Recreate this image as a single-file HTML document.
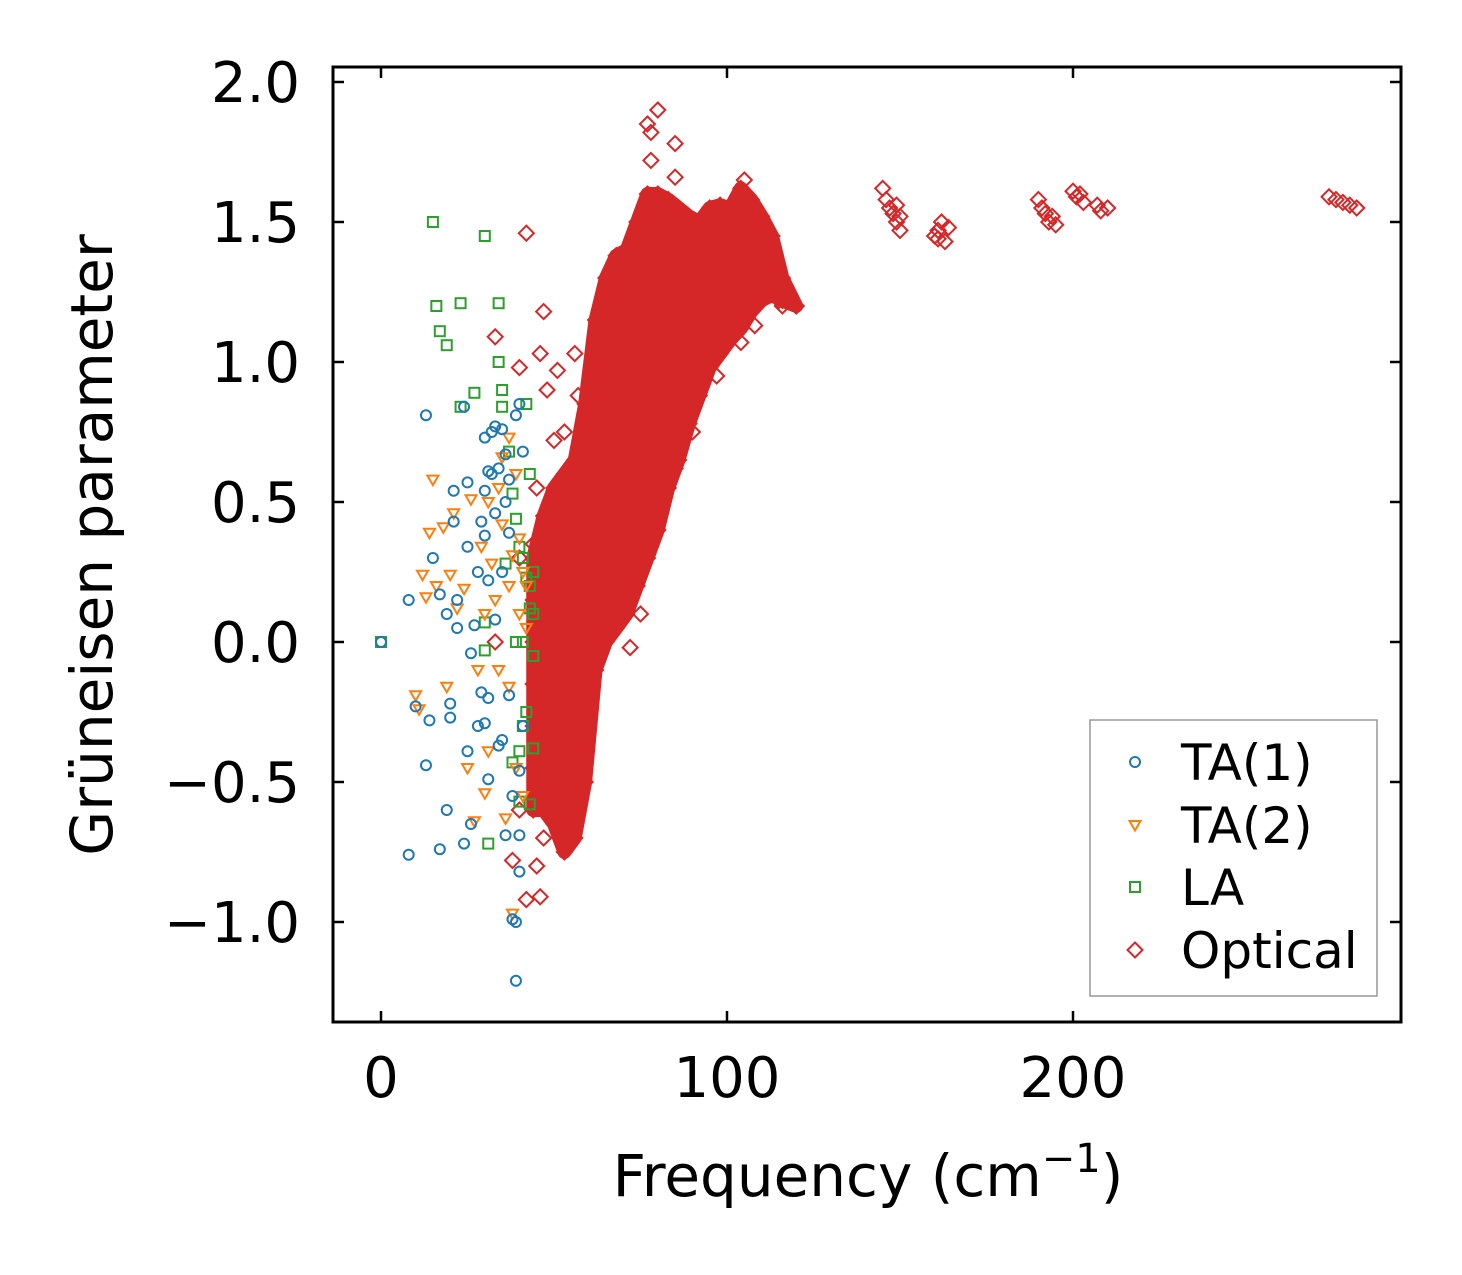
<!DOCTYPE html>
<html><head><meta charset="utf-8"><style>
html,body{margin:0;padding:0;background:#fff;}
svg text{font-family:"DejaVu Sans","Liberation Sans",sans-serif;fill:#000;}
</style></head><body>
<svg id="chart" width="1462" height="1270" viewBox="0 0 1462 1270" xmlns="http://www.w3.org/2000/svg">
<rect x="0" y="0" width="1462" height="1270" fill="#fff"/>
<g id="marks"></g>
<g id="axes"></g>
</svg>
<script>
const xTicks = [0, 100, 200];
const xTickLabels = ["0", "100", "200"];
const yTicks = [-1.0, -0.5, 0.0, 0.5, 1.0, 1.5, 2.0];
const yTickLabels = ["\u22121.0", "\u22120.5", "0.0", "0.5", "1.0", "1.5", "2.0"];
const seriesNames = ["TA(1)", "TA(2)", "LA", "Optical"];

const ta1X = [0,8,8,10,13,13,14,15,17,17,19,19,20,20,21,21,22,22,24,24,25,25,25,26,26,27,28,28,29,29,30,30,30,30,31,31,31,31,32,32,33,33,33,34,34,35,35,35,36,36,36,37,37,37,38,38,39,39,39,40,40,40,40,41,41];
const ta1Y = [0,-0.76,0.15,-0.23,0.81,-0.44,-0.28,0.3,0.17,-0.74,-0.6,0.1,-0.27,-0.22,0.54,0.43,0.05,0.15,-0.72,0.84,0.57,0.34,-0.39,-0.04,-0.65,0.06,0.25,-0.3,0.43,-0.18,0.73,0.54,0.38,-0.29,0.61,0.22,-0.49,-0.2,0.75,0.6,0.77,0.46,0.08,0.62,-0.37,0.76,-0.35,0.25,0.67,0.5,-0.69,0.58,0.39,-0.19,-0.99,-0.55,0.81,-1.0,-1.21,-0.82,-0.69,-0.46,0.85,0.68,-0.3];

const ta2X = [10,11,12,13,14,15,16,18,19,20,21,22,24,25,26,27,28,29,30,30,31,31,32,33,34,34,35,35,36,37,37,37,38,38,39,39,40,40,41,41,42,42];
const ta2Y = [-0.19,-0.24,0.24,0.16,0.39,0.58,0.2,0.41,-0.16,0.24,0.46,0.12,0.19,-0.45,0.51,-0.64,-0.1,0.34,-0.54,0.1,0.5,-0.39,0.28,0.15,0.55,-0.1,0.66,0.42,-0.63,0.73,0.2,-0.16,-0.97,0.31,0.6,-0.45,0.1,0.37,0.25,-0.55,0.05,0.2];

const laX = [0,15,16,17,19,23,23,27,30,30,30,31,34,34,35,35,36,37,38,38,39,40,40,41,42,42,42,43,43,43,43,44,44,44,44,40,39,41,41];
const laY = [0,1.5,1.2,1.11,1.06,1.21,0.84,0.89,1.45,-0.03,0.07,-0.72,1.21,1.0,0.9,0.84,0.28,0.68,-0.43,0.53,0.44,-0.57,0.34,0.3,0.23,0.85,-0.25,0.6,0.2,0.12,-0.58,0.25,-0.05,0.1,-0.38,-0.39,0.0,0.0,-0.3];

const optColX = [44,47,50,53,56,59,62,65,68,71,74,77,80,83,86,89,92,95,98,101,104,107,110,113,116,120];
const optColY = [
 [-0.6,-0.45,-0.3,-0.15,0,0.15,0.3],
 [-0.6,-0.45,-0.3,-0.15,0,0.15,0.3,0.45],
 [-0.65,-0.5,-0.35,-0.2,-0.05,0.1,0.25,0.4,0.55],
 [-0.75,-0.6,-0.45,-0.3,-0.15,0,0.15,0.3,0.45,0.6],
 [-0.7,-0.55,-0.4,-0.25,-0.1,0.05,0.2,0.35,0.5,0.65],
 [-0.5,-0.35,-0.2,-0.05,0.1,0.25,0.4,0.55,0.7,0.85],
 [-0.1,0.1,0.25,0.4,0.55,0.7,0.85,1.0,1.15],
 [0,0.15,0.3,0.45,0.6,0.75,0.9,1.05,1.2,1.3],
 [0.05,0.2,0.35,0.5,0.65,0.8,0.95,1.1,1.25,1.38],
 [0.1,0.25,0.4,0.55,0.7,0.85,1.0,1.15,1.3,1.4],
 [0.2,0.35,0.5,0.65,0.8,0.95,1.1,1.25,1.4,1.5],
 [0.3,0.45,0.6,0.75,0.9,1.05,1.2,1.35,1.5,1.6],
 [0.4,0.55,0.7,0.85,1.0,1.15,1.3,1.45,1.6],
 [0.55,0.7,0.85,1.0,1.15,1.3,1.45,1.58],
 [0.65,0.8,0.95,1.1,1.25,1.4,1.55],
 [0.78,0.95,1.1,1.25,1.4,1.52],
 [0.88,1.05,1.2,1.35,1.5],
 [0.98,1.15,1.3,1.45,1.55],
 [1.03,1.2,1.35,1.5,1.56],
 [1.08,1.25,1.4,1.55],
 [1.12,1.3,1.45,1.62],
 [1.18,1.35,1.5,1.58],
 [1.22,1.35,1.52],
 [1.24,1.35,1.45],
 [1.22,1.3],
 [1.2]
];
const optX = [42,47,40,33,48,46,51,50,40,46,42,38,45,33,40,72,75,68,56,80,85,77,85,105,116,120,115,108,104,97,90,85,75,57,53,45,44,47,78,78,
 145,146,147,148,149,150,149,150,160,161,162,163,161,164,190,191,192,193,194,195,200,201,202,203,207,208,210,274,276,278,280,282];
const optY = [1.46,1.18,0.98,1.09,0.9,1.03,0.97,0.72,0.3,-0.91,-0.92,-0.78,-0.8,0.0,-0.6,-0.02,0.31,0.18,1.03,1.9,1.78,1.85,1.66,1.65,1.2,1.2,1.22,1.13,1.07,0.95,0.75,0.62,0.1,0.88,0.75,0.55,0.35,-0.7,1.82,1.72,
 1.62,1.58,1.55,1.53,1.5,1.47,1.56,1.52,1.45,1.47,1.5,1.43,1.44,1.48,1.58,1.55,1.53,1.5,1.52,1.49,1.61,1.59,1.6,1.57,1.56,1.54,1.55,1.59,1.58,1.57,1.56,1.55];

const PL=333,PR=1401,PT=67,PB=1022;
function sx(v){return 381 + v*3.46;}
function sy(v){return 642 - v*280;}
const NS="http://www.w3.org/2000/svg";
function mk(tag, attrs, parent){const e=document.createElementNS(NS,tag);for(const k in attrs)e.setAttribute(k,attrs[k]);parent.appendChild(e);return e;}
const marksG=document.getElementById('marks');
const axesG=document.getElementById('axes');
const C={blue:"#1f77b4",orange:"#ff7f0e",green:"#2ca02c",red:"#d62728"};

function circle(x,y,g){const e=mk('circle',{cx:x,cy:y,r:5,fill:'none',stroke:C.blue,'stroke-width':2},g);

}
function tri(x,y,g){const e=mk('path',{d:`M${x-5.5},${y-4} L${x+5.5},${y-4} L${x},${y+5.5} Z`,fill:'none',stroke:C.orange,'stroke-width':2},g);

}
function sq(x,y,g){const e=mk('rect',{x:x-5,y:y-5,width:10,height:10,fill:'none',stroke:C.green,'stroke-width':2},g);

}
function dia(x,y,g){const e=mk('path',{d:`M${x},${y-7.5} L${x+7.5},${y} L${x},${y+7.5} L${x-7.5},${y} Z`,fill:'none',stroke:C.red,'stroke-width':2},g);

}

const gOpt=mk('g',{},marksG);


const envTop=[],envBot=[];
optColX.forEach((x,i)=>{const ys=optColY[i];envTop.push([sx(x),sy(Math.max(...ys))]);envBot.push([sx(x),sy(Math.min(...ys))]);});
const envPts=envTop.concat(envBot.reverse()).map(p=>p.join(',')).join(' ');
const env=mk('polygon',{points:envPts,fill:C.red,stroke:C.red,'stroke-width':14,'stroke-linejoin':'round'},gOpt);


optColX.forEach((x,i)=>optColY[i].forEach(y=>dia(sx(x),sy(y),gOpt)));
optX.forEach((x,i)=>dia(sx(x),sy(optY[i]),gOpt));

const gLA=mk('g',{},marksG);


laX.forEach((x,i)=>sq(sx(x),sy(laY[i]),gLA));
const gT2=mk('g',{},marksG);


ta2X.forEach((x,i)=>tri(sx(x),sy(ta2Y[i]),gT2));
const gT1=mk('g',{},marksG);


ta1X.forEach((x,i)=>circle(sx(x),sy(ta1Y[i]),gT1));

const fr=mk('rect',{x:PL,y:PT,width:PR-PL,height:PB-PT,fill:'none',stroke:'#000','stroke-width':3},axesG);


xTicks.forEach((v,i)=>{const x=sx(v);
 mk('line',{x1:x,y1:PB,x2:x,y2:PB-11,stroke:'#000','stroke-width':2.5},axesG);
 mk('line',{x1:x,y1:PT,x2:x,y2:PT+11,stroke:'#000','stroke-width':2.5},axesG);
 const t=mk('text',{x:x,y:1097,'font-size':56,'text-anchor':'middle'},axesG);t.textContent=xTickLabels[i];
 
 });
yTicks.forEach((v,i)=>{const y=sy(v);
 mk('line',{x1:PL,y1:y,x2:PL+11,y2:y,stroke:'#000','stroke-width':2.5},axesG);
 mk('line',{x1:PR,y1:y,x2:PR-11,y2:y,stroke:'#000','stroke-width':2.5},axesG);
 const t=mk('text',{x:300,y:y+20,'font-size':56,'text-anchor':'end'},axesG);t.textContent=yTickLabels[i];
 
 });
const xt=mk('text',{x:868,y:1196,'font-size':58,'text-anchor':'middle'},axesG);
xt.appendChild(document.createTextNode('Frequency (cm'));
const sup=mk('tspan',{dy:-24,'font-size':40},xt);sup.textContent='\u22121';
const cl=mk('tspan',{dy:24},xt);cl.textContent=')';


const yt=mk('text',{x:0,y:0,'font-size':58,'text-anchor':'middle',transform:'translate(112,545) rotate(-90)'},axesG);
yt.textContent='Grüneisen parameter';



const lg=mk('g',{},axesG);


mk('rect',{x:1090,y:720,width:287,height:276,fill:'#fff',stroke:'#999','stroke-width':1.5},lg);
const fns=[circle,tri,sq,dia];
const ly=[762,825,887,950];
seriesNames.forEach((n,i)=>{fns[i](1135,ly[i],lg);
 const t=mk('text',{x:1181,y:ly[i]+18,'font-size':50},lg);t.textContent=n;
 
 });
</script>
</body></html>
